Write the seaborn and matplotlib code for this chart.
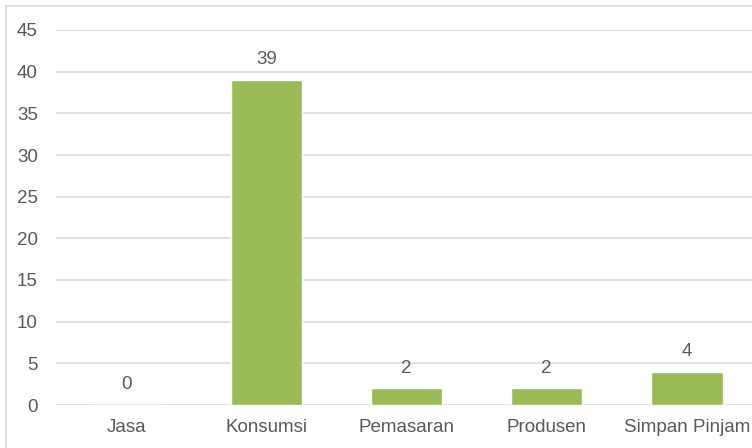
import matplotlib
matplotlib.use("Agg")
import numpy as np
import pandas as pd
import matplotlib.pyplot as plt
import seaborn as sns
from matplotlib.patches import Rectangle

categories = ["Jasa", "Konsumsi", "Pemasaran", "Produsen", "Simpan Pinjam"]
values = [0, 39, 2, 2, 4]
yticks = [0, 5, 10, 15, 20, 25, 30, 35, 40, 45]

sns.set_style("white")
plt.rcParams['font.family'] = ['Liberation Sans', 'DejaVu Sans']

text_color = "#595959"
grid_color = "#D9D9D9"
bar_color = "#9BBB59"
fsize = 13.5

frame = pd.DataFrame({"jenis": categories, "jumlah": values})

fig = plt.figure(figsize=(7.52, 4.48), dpi=100)
# chart border (cropped on the right and bottom like the reference)
fig.patches.append(Rectangle((6 / 752, -0.1), 1.2, (448 - 6) / 448 + 0.1,
                             transform=fig.transFigure, fill=False,
                             edgecolor=grid_color, linewidth=1.2))

ax = fig.add_axes([56 / 752, 43 / 448, 701 / 752, 375 / 448])
sns.barplot(data=frame, x="jenis", y="jumlah", color=bar_color, width=0.51,
            saturation=1, ax=ax)

ax.set_ylim(0, 45)
ax.set_yticks(yticks)
ax.yaxis.grid(True, color=grid_color, linewidth=1.1)
ax.set_axisbelow(True)
for s in ax.spines.values():
    s.set_visible(False)
ax.tick_params(axis="both", length=0, labelsize=fsize, colors=text_color)
ax.tick_params(axis="y", pad=13)
ax.tick_params(axis="x", pad=10)
ax.set_xlabel(None)
ax.set_ylabel(None)

ax.bar_label(ax.containers[0], labels=[str(v) for v in values],
             padding=8.5, fontsize=fsize, color=text_color)

fig.savefig("out.png", dpi=100)
